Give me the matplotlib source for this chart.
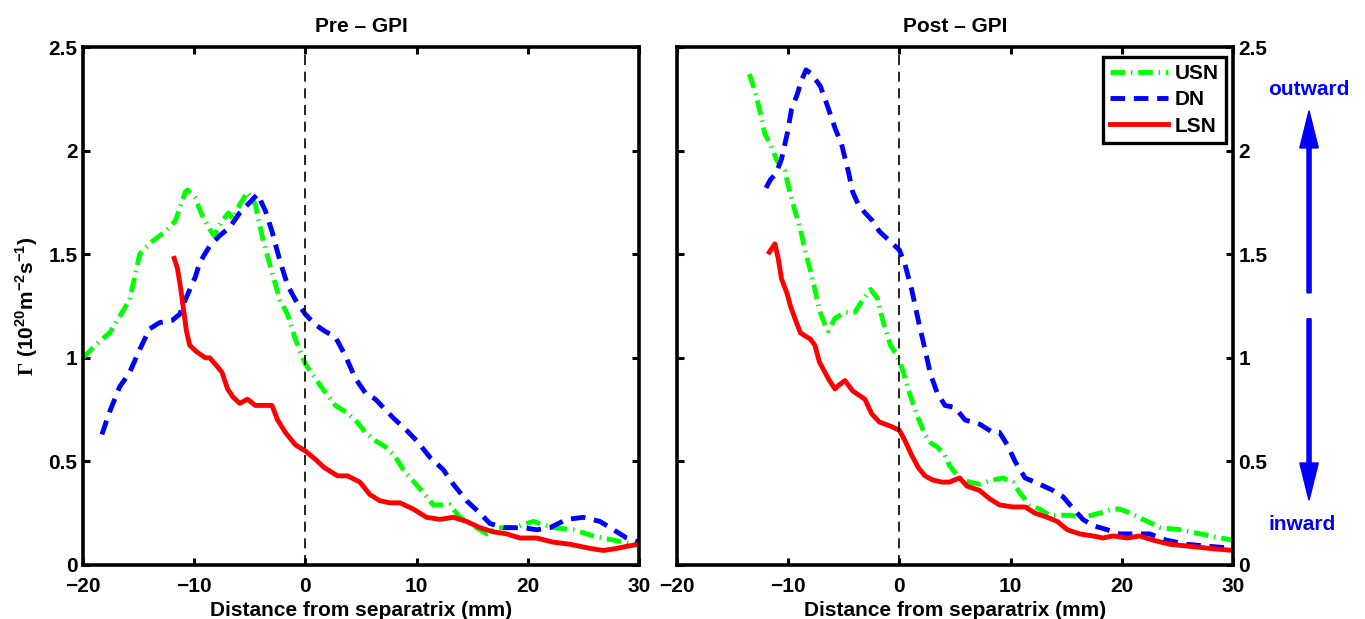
import matplotlib
matplotlib.use('Agg')
import matplotlib.pyplot as plt
from matplotlib.patches import FancyArrow

plt.rcParams['font.family'] = ['Liberation Sans', 'DejaVu Sans']
plt.rcParams['font.weight'] = 'bold'
plt.rcParams['mathtext.fontset'] = 'custom'
plt.rcParams['mathtext.rm'] = 'Liberation Sans:bold'
plt.rcParams['mathtext.sf'] = 'Liberation Serif'
plt.rcParams['mathtext.bf'] = 'Liberation Sans:bold'

# Pre-GPI profiles (distance in mm, flux in 1e20 m^-2 s^-1)
pre_usn_x = [-20, -18.5, -17.6, -16.7, -15.8, -14.9, -14.4, -13.8, -12.6, -11.7, -10.8, -10.6, -9.9,
             -9.3, -8.6, -8.2, -7.5, -6.9, -6.5, -5.9, -5.2, -4.5, -3.9, -3.2, -2.3, -1.6, -0.9, 0,
             0.9, 1.7, 2.7, 3.6, 4.5, 5.4, 6.3, 7.2, 8.0, 8.8, 10.6, 11.5, 13.0, 13.9, 15.4, 16.3,
             17.3, 18.7, 20.5, 22.3, 24.1, 25.9, 27.7, 29.5, 30]
pre_usn_y = [1.0, 1.08, 1.12, 1.2, 1.28, 1.5, 1.53, 1.56, 1.61, 1.66, 1.8, 1.81, 1.77,
             1.69, 1.62, 1.59, 1.66, 1.70, 1.67, 1.74, 1.80, 1.74, 1.59, 1.45, 1.28, 1.21, 1.09, 0.97,
             0.9, 0.84, 0.77, 0.74, 0.70, 0.64, 0.60, 0.57, 0.53, 0.46, 0.35, 0.29, 0.29, 0.23, 0.18, 0.15,
             0.18, 0.18, 0.21, 0.18, 0.17, 0.14, 0.12, 0.10, 0.10]

pre_dn_x = [-18.3, -17.6, -16.7, -15.8, -14.9, -14.0, -13.1, -12.0, -11.3, -10.8, -9.9, -9.5, -8.6,
            -7.7, -6.8, -5.9, -5.0, -4.3, -3.6, -3.0, -2.3, -1.6, -0.9, 0, 0.9, 1.7, 2.7, 3.6, 4.5,
            5.4, 6.3, 7.9, 9.1, 10.0, 11.2, 12.4, 13.3, 14.5, 15.7, 16.6, 17.8, 19.6, 20.8, 22.0,
            23.5, 25.0, 26.5, 27.7, 28.9, 30]
pre_dn_y = [0.63, 0.74, 0.86, 0.93, 1.04, 1.14, 1.17, 1.18, 1.21, 1.28, 1.39, 1.46, 1.54,
            1.59, 1.63, 1.70, 1.75, 1.79, 1.71, 1.61, 1.47, 1.35, 1.28, 1.21, 1.16, 1.13, 1.10, 1.01, 0.90,
            0.83, 0.80, 0.71, 0.65, 0.60, 0.52, 0.46, 0.39, 0.31, 0.25, 0.20, 0.18, 0.18, 0.17, 0.18,
            0.22, 0.23, 0.21, 0.17, 0.13, 0.11]

pre_lsn_x = [-11.8, -11.5, -11.2, -10.9, -10.7, -10.4, -9.8, -9.0, -8.6, -7.8, -7.5, -7.0, -6.5,
             -5.9, -5.2, -4.5, -3.6, -3.0, -2.5, -1.8, -0.9, 0, 0.9, 1.7, 2.9, 3.8, 4.9, 5.8, 6.7,
             7.6, 8.5, 9.7, 10.9, 12.1, 13.3, 14.5, 15.7, 16.9, 18.1, 19.3, 20.8, 22.3, 23.8, 25.6,
             26.8, 28.0, 28.9, 30]
pre_lsn_y = [1.48, 1.43, 1.33, 1.21, 1.13, 1.06, 1.03, 1.0, 1.0, 0.95, 0.93, 0.85, 0.81,
             0.78, 0.80, 0.77, 0.77, 0.77, 0.70, 0.64, 0.58, 0.55, 0.51, 0.47, 0.43, 0.43, 0.40, 0.34, 0.31,
             0.30, 0.30, 0.27, 0.23, 0.22, 0.23, 0.21, 0.18, 0.16, 0.15, 0.13, 0.13, 0.11, 0.10, 0.08,
             0.07, 0.08, 0.09, 0.10]

# Post-GPI profiles
post_usn_x = [-13.5, -13.0, -12.5, -12.1, -11.6, -11.0, -10.3, -9.9, -9.4, -8.9, -8.5, -8.0, -7.6,
              -7.2, -6.7, -6.4, -5.8, -4.9, -4.0, -3.3, -2.6, -2.0, -1.5, -0.8, -0.2, 0.3, 0.9, 1.6,
              2.3, 2.8, 3.4, 4.1, 4.5, 5.4, 6.3, 7.2, 8.4, 9.3, 10.2, 10.8, 11.7, 12.6, 13.5, 14.4,
              15.3, 16.5, 18.0, 19.2, 19.8, 20.8, 21.9, 23.5, 25.3, 27.1, 28.9, 30]
post_usn_y = [2.37, 2.29, 2.18, 2.08, 2.03, 1.95, 1.90, 1.81, 1.71, 1.62, 1.52, 1.42, 1.33,
              1.23, 1.16, 1.13, 1.19, 1.22, 1.22, 1.28, 1.33, 1.29, 1.18, 1.06, 1.01, 0.94, 0.83, 0.72,
              0.63, 0.59, 0.57, 0.53, 0.48, 0.42, 0.40, 0.39, 0.41, 0.42, 0.40, 0.35, 0.29, 0.27, 0.24, 0.24,
              0.24, 0.23, 0.25, 0.27, 0.27, 0.25, 0.22, 0.18, 0.17, 0.15, 0.13, 0.12]

post_dn_x = [-12.0, -11.6, -11.1, -10.6, -10.1, -9.7, -9.2, -8.8, -8.4, -7.9, -7.1, -6.5, -5.8,
             -5.2, -4.6, -4.2, -3.7, -3.1, -2.4, -1.8, -0.8, 0, 0.5, 1.1, 1.7, 2.3, 2.8, 3.4, 4.1,
             5.0, 5.9, 7.2, 8.4, 9.0, 9.7, 10.4, 11.3, 12.6, 13.8, 14.7, 15.5, 16.5, 17.4, 18.7,
             19.8, 21.0, 22.5, 24.0, 25.8, 27.9, 30]
post_dn_y = [1.82, 1.86, 1.89, 1.96, 2.08, 2.20, 2.27, 2.34, 2.39, 2.37, 2.31, 2.22, 2.11,
             2.03, 1.90, 1.80, 1.74, 1.70, 1.66, 1.61, 1.56, 1.52, 1.45, 1.33, 1.18, 1.04, 0.92, 0.83, 0.77,
             0.76, 0.70, 0.68, 0.64, 0.64, 0.58, 0.50, 0.42, 0.39, 0.36, 0.33, 0.28, 0.22, 0.19, 0.17,
             0.15, 0.15, 0.15, 0.12, 0.10, 0.09, 0.08]

post_lsn_x = [-11.7, -11.2, -10.9, -10.6, -10.1, -9.8, -9.4, -8.9, -8.0, -7.6, -7.2, -6.4, -5.8,
              -5.4, -4.9, -4.2, -3.1, -2.5, -1.8, -0.8, 0, 0.5, 1.1, 1.7, 2.3, 3.0, 3.8, 4.5, 5.4,
              6.1, 7.2, 8.1, 9.0, 10.2, 11.3, 12.2, 13.3, 14.2, 15.1, 16.2, 17.4, 18.3, 19.2, 20.5,
              21.6, 22.8, 24.3, 26.1, 27.9, 30]
post_lsn_y = [1.51, 1.55, 1.48, 1.38, 1.31, 1.25, 1.19, 1.12, 1.09, 1.06, 0.98, 0.90, 0.85,
              0.87, 0.89, 0.84, 0.80, 0.73, 0.69, 0.67, 0.65, 0.60, 0.53, 0.47, 0.43, 0.41, 0.40, 0.40, 0.42,
              0.38, 0.36, 0.32, 0.29, 0.28, 0.28, 0.25, 0.23, 0.21, 0.17, 0.15, 0.14, 0.13, 0.14, 0.13,
              0.14, 0.12, 0.10, 0.09, 0.08, 0.07]

x_ticks = [-20, -10, 0, 10, 20, 30]
y_ticks = [0, 0.5, 1, 1.5, 2, 2.5]
x_ticklabels = ['\u221220', '\u221210', '0', '10', '20', '30']
y_ticklabels = ['0', '0.5', '1', '1.5', '2', '2.5']

fs = 15

fig = plt.figure(figsize=(13.65, 6.19), dpi=100)
ax_pre = fig.add_axes([0.0608, 0.0873, 0.4073, 0.8367])
ax_post = fig.add_axes([0.496, 0.0873, 0.4073, 0.8367])

line_kw = dict(linewidth=3.5)
for ax, usn, dn, lsn, title in [
        (ax_pre, (pre_usn_x, pre_usn_y), (pre_dn_x, pre_dn_y), (pre_lsn_x, pre_lsn_y), 'Pre \u2013 GPI'),
        (ax_post, (post_usn_x, post_usn_y), (post_dn_x, post_dn_y), (post_lsn_x, post_lsn_y), 'Post \u2013 GPI')]:
    ax.plot(*usn, color='#00ff00', linestyle=(0, (3.0, 1.2, 0.3, 1.2)), label='USN', **line_kw)
    ax.plot(*dn, color='#0000ff', linestyle=(0, (3.0, 1.8)), label='DN', **line_kw)
    ax.plot(*lsn, color='#ff0000', linestyle='-', label='LSN', **line_kw)
    ax.plot([0, 0], [0, 2.5], color='black', linestyle=(0, (6, 4)), linewidth=1.2)
    ax.set_xlim(-20, 30)
    ax.set_ylim(0, 2.5)
    ax.set_xticks(x_ticks)
    ax.set_xticklabels(x_ticklabels)
    ax.set_yticks(y_ticks)
    ax.set_yticklabels(y_ticklabels)
    ax.tick_params(direction='in', length=5, width=2.2, labelsize=fs, top=True, right=True)
    ax.tick_params(axis='x', pad=9)
    ax.tick_params(axis='y', pad=4)
    for sp in ax.spines.values():
        sp.set_linewidth(2.6)
    ax.set_title(title, fontsize=fs, fontweight='bold', pad=11)
    ax.set_xlabel('Distance from separatrix (mm)', fontsize=fs, fontweight='bold', labelpad=3)

ax_pre.set_ylabel(r'$\mathsf{\Gamma}$ (10$^{20}$m$^{-2}$s$^{-1}$)', fontsize=fs, fontweight='bold', labelpad=6)
ax_post.tick_params(labelleft=False, labelright=True)

leg = ax_post.legend(loc='upper right', bbox_to_anchor=(0.987, 0.981), fontsize=fs, handlelength=2.8,
                     frameon=True, fancybox=False, borderaxespad=0, labelspacing=0.35,
                     handletextpad=0.3, borderpad=0.35)
leg.get_frame().set_edgecolor('black')
leg.get_frame().set_linewidth(2.4)
leg.get_frame().set_alpha(1)

# outward / inward arrows
fig.patches.append(FancyArrow(0.959, 0.527, 0, 0.294, width=0.003, head_width=0.0135,
                              head_length=0.06, length_includes_head=True,
                              color='#0000ff', transform=fig.transFigure))
fig.patches.append(FancyArrow(0.959, 0.485, 0, -0.293, width=0.003, head_width=0.0135,
                              head_length=0.06, length_includes_head=True,
                              color='#0000ff', transform=fig.transFigure))
fig.text(0.959, 0.855, 'outward', color='#0000ff', fontsize=fs, fontweight='bold', ha='center', va='center')
fig.text(0.954, 0.152, 'inward', color='#0000ff', fontsize=fs, fontweight='bold', ha='center', va='center')

fig.savefig('out.png', dpi=100)
